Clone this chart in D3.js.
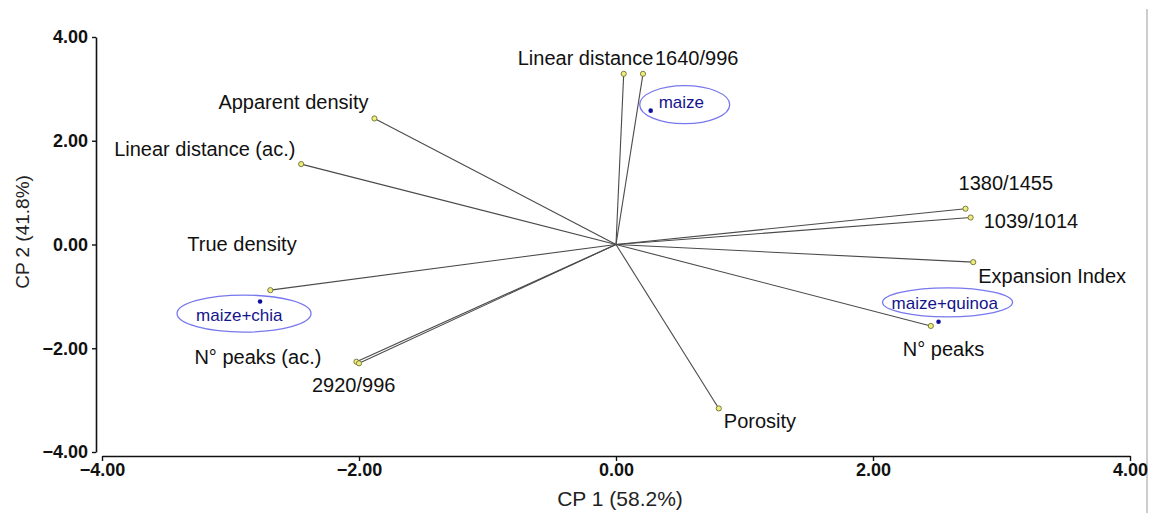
<!DOCTYPE html>
<html>
<head>
<meta charset="utf-8">
<script src="https://cdn.jsdelivr.net/npm/d3@7"></script>
<style>
  body { margin: 0; background: #fff; }
  svg { display: block; font-family: "Liberation Sans", Arial, sans-serif; }
</style>
</head>
<body>
<svg width="1151" height="513"></svg>
<script>
// loadings (variables) on CP1 / CP2
const varNames = ['Linear distance', '1640/996', 'Apparent density', 'Linear distance (ac.)',
    'True density', 'N° peaks (ac.)', '2920/996', '1380/1455', '1039/1014',
    'Expansion Index', 'N° peaks', 'Porosity'];
const varCP1 = [0.06, 0.21, -1.88, -2.45, -2.69, -2.02, -2.00, 2.72, 2.76, 2.78, 2.45, 0.80];
const varCP2 = [3.29, 3.29, 2.43, 1.55, -0.88, -2.26, -2.29, 0.69, 0.52, -0.34, -1.57, -3.16];

// scores (samples)
const obsNames = ['maize', 'maize+chia', 'maize+quinoa'];
const obsCP1 = [0.27, -2.77, 2.51];
const obsCP2 = [2.58, -1.10, -1.49];

const xTicks = [-4, -2, 0, 2, 4];
const yTicks = [-4, -2, 0, 2, 4];

// label placement relative to the point (px)
const varLabelPos = {
    'Linear distance': [-106, -9],
    '1640/996': [12, -9],
    'Apparent density': [-156, -9],
    'Linear distance (ac.)': [-187, -8],
    'True density': [-83, -39],
    'N° peaks (ac.)': [-162, 2],
    '2920/996': [-47, 29],
    '1380/1455': [-7, -19],
    '1039/1014': [13, 10],
    'Expansion Index': [5, 21],
    'N° peaks': [-28, 30],
    'Porosity': [5, 20]
};
const obsLabelPos = {
    'maize': { text: [8, -3], ell: [34, -6, 45, 19] },
    'maize+chia': { text: [-64, 19], ell: [-16, 12, 67, 18.5] },
    'maize+quinoa': { text: [-47, -13], ell: [9, -19.5, 65, 14.5] }
};

const svg = d3.select("svg");
const fmt = d3.format(".2f");

const x = d3.scaleLinear().domain([-4, 4]).range([102, 1130]);
const y = d3.scaleLinear().domain([-4, 4]).range([452, 37]);

// right frame line
svg.append("line")
    .attr("x1", 1147).attr("x2", 1147).attr("y1", 9).attr("y2", 513)
    .attr("stroke", "#bdbdbd").attr("stroke-width", 1.5);

// axes
const yAxis = svg.append("g")
    .attr("transform", "translate(96,0)")
    .call(d3.axisLeft(y).tickValues(yTicks).tickFormat(fmt).tickSize(4).tickSizeOuter(0).tickPadding(4));
const xAxis = svg.append("g")
    .attr("transform", "translate(0,456)")
    .call(d3.axisBottom(x).tickValues(xTicks).tickFormat(fmt).tickSize(5).tickSizeOuter(0).tickPadding(2));

[xAxis, yAxis].forEach(a => {
    a.select(".domain").attr("stroke", "#111").attr("stroke-width", 1.6);
    a.selectAll(".tick line").attr("stroke", "#111").attr("stroke-width", 1.4);
    a.selectAll(".tick text")
        .style("font-family", '"Liberation Sans", Arial, sans-serif')
        .style("font-size", "18px")
        .style("font-weight", "bold")
        .attr("fill", "#111");
});

svg.append("text")
    .attr("x", 620).attr("y", 506)
    .attr("text-anchor", "middle")
    .style("font-size", "21px")
    .attr("fill", "#222")
    .text("CP 1 (58.2%)");

svg.append("text")
    .attr("transform", "translate(29,232) rotate(-90)")
    .attr("text-anchor", "middle")
    .style("font-size", "19px")
    .attr("fill", "#222")
    .text("CP 2 (41.8%)");

const vars = varNames.map((n, i) => ({ name: n, cp1: varCP1[i], cp2: varCP2[i] }));
const obs = obsNames.map((n, i) => ({ name: n, cp1: obsCP1[i], cp2: obsCP2[i] }));

// vectors
svg.append("g").selectAll("line")
    .data(vars)
    .enter().append("line")
    .attr("x1", x(0)).attr("y1", y(0))
    .attr("x2", d => x(d.cp1)).attr("y2", d => y(d.cp2))
    .attr("stroke", "#4a4a4a")
    .attr("stroke-width", 1.1);

svg.append("g").selectAll("circle")
    .data(vars)
    .enter().append("circle")
    .attr("cx", d => x(d.cp1)).attr("cy", d => y(d.cp2))
    .attr("r", 2.6)
    .attr("fill", "#eded7a")
    .attr("stroke", "#6e6e3a")
    .attr("stroke-width", 0.9);

svg.append("g").selectAll("text")
    .data(vars)
    .enter().append("text")
    .attr("x", d => x(d.cp1) + varLabelPos[d.name][0])
    .attr("y", d => y(d.cp2) + varLabelPos[d.name][1])
    .style("font-size", "20px")
    .attr("fill", "#111")
    .text(d => d.name);

// samples
const og = svg.append("g").selectAll("g")
    .data(obs)
    .enter().append("g")
    .attr("transform", d => "translate(" + x(d.cp1) + "," + y(d.cp2) + ")");

og.append("ellipse")
    .attr("cx", d => obsLabelPos[d.name].ell[0])
    .attr("cy", d => obsLabelPos[d.name].ell[1])
    .attr("rx", d => obsLabelPos[d.name].ell[2])
    .attr("ry", d => obsLabelPos[d.name].ell[3])
    .attr("fill", "none")
    .attr("stroke", "#7878ee")
    .attr("stroke-width", 1.3);

og.append("circle")
    .attr("r", 2.3)
    .attr("fill", "#10109a");

og.append("text")
    .attr("x", d => obsLabelPos[d.name].text[0])
    .attr("y", d => obsLabelPos[d.name].text[1])
    .style("font-size", "17px")
    .attr("fill", "#14148c")
    .text(d => d.name);
</script>
</body>
</html>
